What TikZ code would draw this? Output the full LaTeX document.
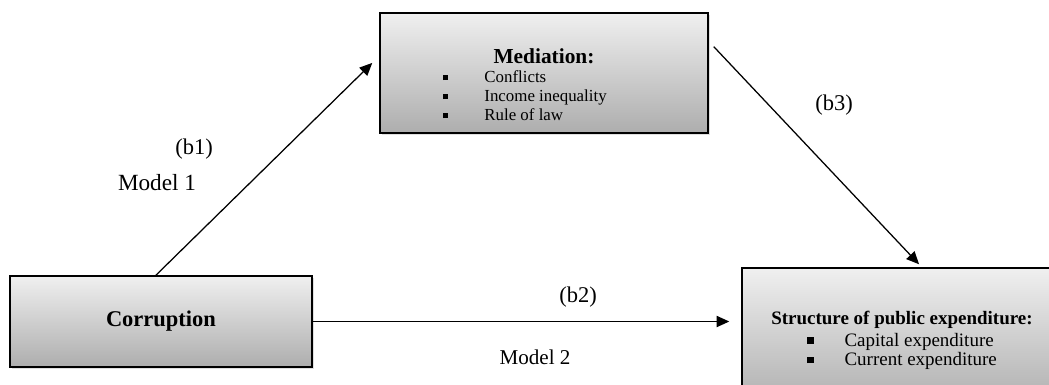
\documentclass[tikz,border=0pt]{standalone}
\usepackage{fontspec}
\setmainfont{Liberation Serif}
\usetikzlibrary{calc,positioning,arrows.meta,shadows}

\newcommand{\sqbul}{\rule[1.6pt]{3.6pt}{3.6pt}}
\newcommand{\bigsqbul}{\rule[1.8pt]{4.6pt}{4.6pt}}

\begin{document}
\begin{tikzpicture}[x=0.025cm, y=-0.025cm,
    boxnode/.style={draw, line width=1pt, top color=black!6, bottom color=black!32,
        drop shadow={opacity=0.25, shadow xshift=1.5pt, shadow yshift=-1.5pt}},
    txtnode/.style={inner sep=0pt, align=center},
    arr/.style={line width=0.9pt, -{Triangle[length=9pt,width=8pt]}}]
    \useasboundingbox (0,0) rectangle (1049,384);
    % boxes
    \node[boxnode, minimum width=8.2cm, minimum height=3cm] (med) at (544,73) {};
    \node[boxnode, minimum width=7.55cm, minimum height=2.275cm,
        font=\fontsize{16}{19}\selectfont\bfseries] (corr) at (161,321.5) {Corruption};
    \node[boxnode, minimum width=8cm, minimum height=3.5cm] (struc) at (902,338) {};
    % box texts
    \node[txtnode, below=0.9cm of med.north, font=\fontsize{12}{13.5}\selectfont] (medtxt)
        {{\fontsize{15.2}{14}\selectfont\bfseries Mediation:}\\[0pt]
         \begin{tabular}[t]{@{}l@{\hspace{25.6pt}}l@{\hspace{27pt}}}
         \sqbul & Conflicts\\
         \sqbul & Income inequality\\
         \sqbul & Rule of law
         \end{tabular}};
    \node[txtnode, below=1.1cm of struc.north, font=\fontsize{13.5}{14}\selectfont] (structxt)
        {\textbf{Structure of public expenditure:}\\[1pt]
         \begin{tabular}[t]{@{}l@{\hspace{22pt}}l@{}}
         \bigsqbul & Capital expenditure\\[0pt]
         \bigsqbul & Current expenditure
         \end{tabular}};
    % arrows
    \coordinate (b1s) at ($(corr.north west)!0.483!(corr.north east)$);
    \coordinate (b1e) at ($(med.north west)!0.417!(med.south west)$);
    \coordinate (b3s) at ($(med.north east)!0.283!(med.south east)$);
    \coordinate (b3e) at ($(struc.north west)!0.553!(struc.north east)$);
    \draw[arr] (b1s) -- ([xshift=-0.175cm]b1e);
    \draw[arr] ([xshift=0.125cm]b3s) -- ([yshift=0.075cm]b3e);
    \draw[arr] (corr.east) -- ([xshift=-0.3cm]corr.east -| struc.west);
    % labels
    \foreach \n/\lx/\ly/\t in {lbone/194/149/(b1), lbtwo/578/297/(b2), lbthree/834/105/(b3)}
        \node[font=\fontsize{16}{19}\selectfont] (\n) at (\lx,\ly) {\t};
    \node[font=\fontsize{16.5}{19}\selectfont] (mone) at (157,183) {Model 1};
    \node[font=\fontsize{15}{18}\selectfont] (mtwo) at (535,357) {Model 2};
\end{tikzpicture}
\end{document}
